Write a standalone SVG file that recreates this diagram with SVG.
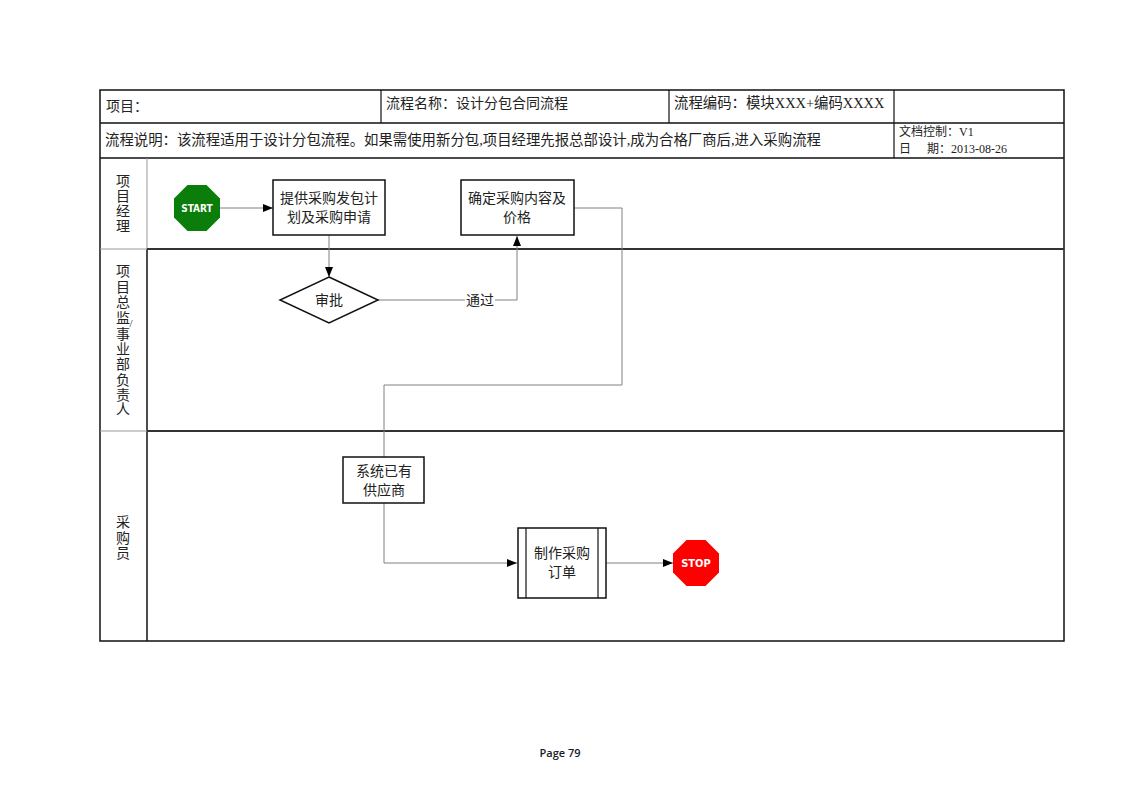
<svg xmlns="http://www.w3.org/2000/svg" width="1122" height="793" viewBox="0 0 1122 793">
<style>
.t{font-family:"Liberation Serif","Noto Sans CJK SC",serif;font-size:14px;fill:#222}
.s{font-size:12px}
.c{text-anchor:middle}
.box{fill:#fff;stroke:#111;stroke-width:1.5}
.con{fill:none;stroke:#808080;stroke-width:1}
.thin{stroke:#999;stroke-width:1}
.lane{stroke:#333;stroke-width:2}
.oct{font-family:"DejaVu Sans Condensed","Liberation Sans",sans-serif;font-stretch:condensed;font-weight:bold;font-size:10px;fill:#fff;text-anchor:middle}
</style>
<defs>
<marker id="arr" markerWidth="10" markerHeight="8" refX="10" refY="4" orient="auto" markerUnits="userSpaceOnUse">
<path d="M0,0 L10,4 L0,8 Z" fill="#000"/>
</marker>
</defs>
<rect width="1122" height="793" fill="#fff"/>
<g id="table">
<rect x="100" y="90" width="964" height="551" fill="none" stroke="#111" stroke-width="1.5"/>
<line x1="100" y1="123" x2="1064" y2="123" stroke="#111" stroke-width="1.5"/>
<line x1="100" y1="158" x2="1064" y2="158" stroke="#111" stroke-width="1.5"/>
<line x1="381" y1="90" x2="381" y2="123" stroke="#111" stroke-width="1.2"/>
<line x1="669" y1="90" x2="669" y2="123" stroke="#111" stroke-width="1.2"/>
<line x1="894" y1="90" x2="894" y2="158" stroke="#111" stroke-width="1.2"/>
<line class="thin" x1="147" y1="158" x2="147" y2="249"/>
<line x1="147" y1="249" x2="147" y2="641" stroke="#111" stroke-width="1.5"/>
<line class="thin" x1="100" y1="249" x2="147" y2="249"/>
<line class="thin" x1="100" y1="431" x2="147" y2="431" stroke="#bbb"/>
<line class="lane" x1="147" y1="249" x2="1064" y2="249"/>
<line class="lane" x1="147" y1="431" x2="1064" y2="431"/>
<text class="t" x="106" y="111">项目：</text>
<text class="t" x="386" y="108">流程名称：设计分包合同流程</text>
<text class="t" x="674" y="108" style="font-size:14.4px">流程编码：模块XXX+编码XXXX</text>
<text class="t" x="105" y="145" style="font-size:14.4px">流程说明：该流程适用于设计分包流程。如果需使用新分包,项目经理先报总部设计,成为合格厂商后,进入采购流程</text>
<text class="t s" x="899" y="136">文档控制：V1</text>
<text class="t s" x="899" y="153">日<tspan x="927">期：2013-08-26</tspan></text>
</g>
<g id="lane-labels">
<text class="t c" x="123"><tspan x="123" y="186">项</tspan><tspan x="123" y="201">目</tspan><tspan x="123" y="216">经</tspan><tspan x="123" y="231">理</tspan></text>
<text class="t c" x="123"><tspan x="123" y="276">项</tspan><tspan x="123" y="292">目</tspan><tspan x="123" y="307">总</tspan><tspan x="123" y="323">监</tspan></text>
<text class="t c" x="131" y="327" style="font-size:11px">/</text>
<text class="t c" x="123"><tspan x="123" y="339">事</tspan><tspan x="123" y="354">业</tspan><tspan x="123" y="369">部</tspan><tspan x="123" y="385">负</tspan><tspan x="123" y="400">责</tspan><tspan x="123" y="414">人</tspan></text>
<text class="t c" x="123"><tspan x="123" y="527">采</tspan><tspan x="123" y="543">购</tspan><tspan x="123" y="558">员</tspan></text>
</g>
<g id="connectors">
<line class="con" x1="220" y1="208" x2="273" y2="208" marker-end="url(#arr)"/>
<line class="con" x1="329" y1="235" x2="329" y2="277" marker-end="url(#arr)"/>
<polyline class="con" points="378,300 517,300 517,236" marker-end="url(#arr)"/>
<polyline class="con" points="574,208 622,208 622,385 384,385 384,457"/>
<polyline class="con" points="384,503 384,563 517,563" marker-end="url(#arr)"/>
<line class="con" x1="606" y1="563" x2="673" y2="563" marker-end="url(#arr)"/>
<rect x="465" y="291" width="30" height="17" fill="#fff"/>
<text class="t c" x="480" y="305">通过</text>
</g>
<g id="start">
<polygon points="187.5,185 206.5,185 220,198.5 220,217.5 206.5,231 187.5,231 174,217.5 174,198.5" fill="#0a7d0a"/>
<text class="oct" x="197" y="212">START</text>
</g>
<g id="n1">
<rect class="box" x="273" y="180" width="112" height="55"/>
<text class="t c" x="329" y="203">提供采购发包计</text>
<text class="t c" x="329" y="222">划及采购申请</text>
</g>
<g id="n2">
<rect class="box" x="461" y="180" width="113" height="55"/>
<text class="t c" x="517" y="203">确定采购内容及</text>
<text class="t c" x="517" y="222">价格</text>
</g>
<g id="d1">
<polygon class="box" points="329,277 378,300 329,323 280,300"/>
<text class="t c" x="329" y="305">审批</text>
</g>
<g id="n3">
<rect class="box" x="343" y="457" width="81" height="46"/>
<text class="t c" x="384" y="476">系统已有</text>
<text class="t c" x="384" y="495">供应商</text>
</g>
<g id="n4">
<rect class="box" x="518" y="528" width="88" height="70"/>
<line x1="526" y1="528" x2="526" y2="598" stroke="#111" stroke-width="1.2"/>
<line x1="598" y1="528" x2="598" y2="598" stroke="#111" stroke-width="1.2"/>
<text class="t c" x="562" y="558">制作采购</text>
<text class="t c" x="562" y="577">订单</text>
</g>
<g id="stop">
<polygon points="686.5,540 705.5,540 719,553.5 719,572.5 705.5,586 686.5,586 673,572.5 673,553.5" fill="#f00"/>
<text class="oct" x="696" y="567" style="font-size:11px">STOP</text>
</g>
<text x="560" y="757" style="font-family:'Open Sans','Liberation Sans',sans-serif;font-size:11px;font-weight:600;fill:#1a1a2a" text-anchor="middle">Page 79</text>
</svg>
